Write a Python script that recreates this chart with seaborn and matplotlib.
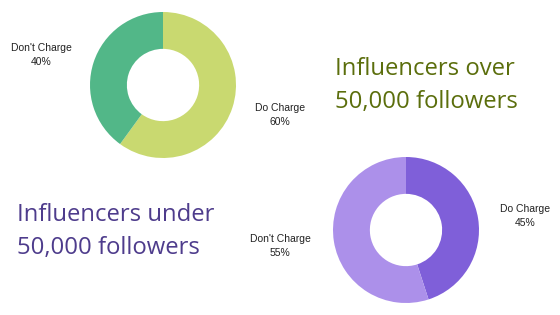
import matplotlib
matplotlib.use("Agg")
import matplotlib.pyplot as plt
import seaborn as sns

sns.set_theme(style="white")

categories = ["Do Charge", "Don't Charge"]
over_values = [60, 40]
under_values = [45, 55]
over_colors = ["#c9d970", "#52b788"]
under_colors = ["#7f5fd9", "#ac90ea"]
over_title = "Influencers over\n50,000 followers"
under_title = "Influencers under\n50,000 followers"

W, H = 560, 315
fig = plt.figure(figsize=(W / 100, H / 100), dpi=100)
fig.patch.set_facecolor("white")


def px_axes(cx, cy, r):
    return fig.add_axes([(cx - r) / W, 1 - (cy + r) / H, 2 * r / W, 2 * r / H])


def donut(ax, values, colors):
    ax.pie(values, colors=colors, startangle=90, counterclock=False,
           wedgeprops=dict(width=0.505, edgecolor="none"), radius=1.0)
    ax.set_xlim(-1, 1)
    ax.set_ylim(-1, 1)
    ax.set_aspect("equal")
    ax.axis("off")


def label(x, y, text):
    fig.text(x / W, 1 - y / H, text, ha="center", va="center", fontsize=7.5,
             family="Liberation Sans", color="#222222", linespacing=1.45)


ax1 = px_axes(163, 85, 73)
donut(ax1, over_values, over_colors)
ax2 = px_axes(406, 230, 73)
donut(ax2, under_values, under_colors)

label(41.5, 55, f"{categories[1]}\n{over_values[1]}%")
label(280, 115, f"{categories[0]}\n{over_values[0]}%")
label(280, 246, f"{categories[1]}\n{under_values[1]}%")
label(525.5, 216, f"{categories[0]}\n{under_values[0]}%")

fig.text(335 / W, 1 - 86 / H, over_title, ha="left", va="center", fontsize=17.2,
         family="Open Sans", color="#5b6e0c", linespacing=1.5)
fig.text(17 / W, 1 - 231.5 / H, under_title, ha="left", va="center", fontsize=17.2,
         family="Open Sans", color="#4e3c8c", linespacing=1.5)

fig.savefig("out.png", dpi=100, facecolor="white")
